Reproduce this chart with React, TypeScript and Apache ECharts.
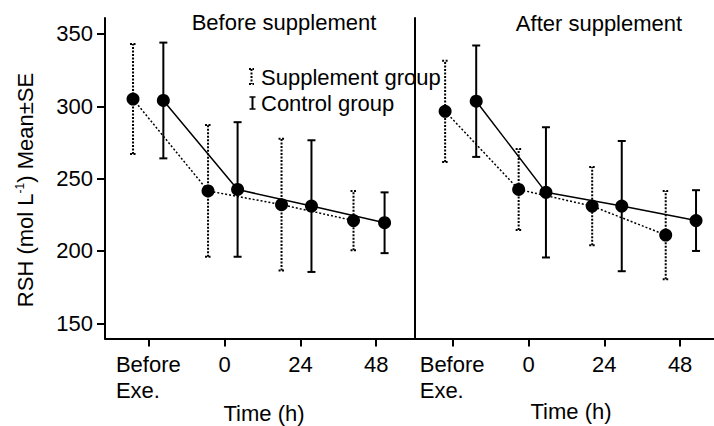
import React, { useEffect, useRef } from "react";
import * as echarts from "echarts";

// ---- data ----
const categories = ["Before\nExe.", "0", "24", "48"];
const yTicks = [150, 200, 250, 300, 350];
const xTicks = [0, 1, 2, 3];

// Before supplement panel
const beforeSuppX = [-0.21, 0.78, 1.75, 2.7];
const beforeSuppMean = [305, 241.5, 232, 221];
const beforeSuppSE = [38, 45.5, 45.5, 20.5];
const beforeCtrlX = [0.19, 1.17, 2.145, 3.11];
const beforeCtrlMean = [304, 242.5, 231, 219.5];
const beforeCtrlSE = [40, 46.5, 45.5, 21];

// After supplement panel
const afterSuppX = [-0.1, 0.87, 1.84, 2.81];
const afterSuppMean = [296.5, 242.5, 231, 211];
const afterSuppSE = [35, 28, 27, 30.5];
const afterCtrlX = [0.31, 1.23, 2.23, 3.21];
const afterCtrlMean = [303.5, 240.5, 231, 221];
const afterCtrlSE = [38.5, 45, 45, 21];

const FONT = '"Liberation Sans", Arial, sans-serif';
const FS = 22;

function errorBars(xs: number[], mean: number[], se: number[], gi: number, dotted: boolean) {
  return {
    type: "custom",
    xAxisIndex: gi,
    yAxisIndex: gi,
    clip: false,
    z: 2,
    encode: { x: 0, y: [1, 2] },
    data: xs.map((x, i) => [x, mean[i] - se[i], mean[i] + se[i]]),
    renderItem: (params: any, api: any) => {
      const x = api.value(0);
      const lo = api.coord([x, api.value(1)]);
      const hi = api.coord([x, api.value(2)]);
      const half = dotted ? 3 : 4;
      const style = { stroke: "#000", lineWidth: 2, lineDash: dotted ? [2, 1.5] : null, fill: null };
      return {
        type: "group",
        children: [
          { type: "line", shape: { x1: lo[0], y1: lo[1], x2: hi[0], y2: hi[1] }, style },
          { type: "line", shape: { x1: lo[0] - half, y1: lo[1], x2: lo[0] + half, y2: lo[1] }, style },
          { type: "line", shape: { x1: hi[0] - half, y1: hi[1], x2: hi[0] + half, y2: hi[1] }, style },
        ],
      };
    },
  };
}

function meanLine(xs: number[], mean: number[], gi: number, dotted: boolean) {
  return {
    type: "line",
    xAxisIndex: gi,
    yAxisIndex: gi,
    z: 3,
    symbol: "circle",
    symbolSize: 13,
    itemStyle: { color: "#000" },
    lineStyle: { color: "#000", width: 1.5, type: dotted ? [2, 2] : "solid" },
    data: xs.map((x, i) => [x, mean[i]]),
  };
}

function xAxisDef(gi: number, min: number, max: number) {
  return {
    type: "value",
    gridIndex: gi,
    min,
    max,
    splitLine: { show: false },
    axisLine: { show: true, onZero: false, lineStyle: { color: "#000", width: 2 } },
    axisTick: { show: true, inside: false, length: 8, lineStyle: { color: "#000", width: 2 }, customValues: xTicks },
    axisLabel: {
      show: true,
      customValues: xTicks,
      margin: 13,
      color: "#000",
      fontFamily: FONT,
      fontSize: FS,
      lineHeight: 26,
      formatter: (v: number) => {
        const c = categories[Math.round(v)] ?? "";
        if (c.indexOf("\n") >= 0) {
          return c
            .split("\n")
            .map((s) => "{l|" + s + "}")
            .join("\n");
        }
        return c;
      },
      rich: {
        l: { width: 66, align: "left", fontSize: FS, lineHeight: 26, fontFamily: FONT, color: "#000" },
      },
    },
  };
}

function label(text: string, x: number, y: number, align: string = "center") {
  return {
    type: "text",
    x,
    y,
    style: { text, fontSize: FS, fontFamily: FONT, fill: "#000", align, verticalAlign: "middle" },
  };
}

export default function App() {
  const ref = useRef<HTMLDivElement>(null);
  useEffect(() => {
    if (!ref.current) return;
    const chart = echarts.init(ref.current, null, { renderer: "svg" });
    const yMin = 139.5;
    const yMax = 361;
    chart.setOption({
      animation: false,
      backgroundColor: "#fff",
      textStyle: { fontFamily: FONT },
      grid: [
        { left: 105, top: 18, width: 309.5, height: 320.5 },
        { left: 414.5, top: 18, width: 299.5, height: 320.5 },
      ],
      xAxis: [xAxisDef(0, -0.58, 3.505), xAxisDef(1, -0.504, 3.447)],
      yAxis: [
        {
          type: "value",
          gridIndex: 0,
          min: yMin,
          max: yMax,
          splitLine: { show: false },
          axisLine: { show: true, onZero: false, lineStyle: { color: "#000", width: 2 } },
          axisTick: { show: true, inside: false, length: 8, lineStyle: { color: "#000", width: 2 }, customValues: yTicks },
          axisLabel: { customValues: yTicks, margin: 12, color: "#000", fontFamily: FONT, fontSize: FS },
        },
        {
          type: "value",
          gridIndex: 1,
          min: yMin,
          max: yMax,
          splitLine: { show: false },
          axisLine: { show: true, onZero: false, lineStyle: { color: "#000", width: 2 } },
          axisTick: { show: false },
          axisLabel: { show: false },
        },
      ],
      series: [
        errorBars(beforeSuppX, beforeSuppMean, beforeSuppSE, 0, true),
        errorBars(beforeCtrlX, beforeCtrlMean, beforeCtrlSE, 0, false),
        meanLine(beforeSuppX, beforeSuppMean, 0, true),
        meanLine(beforeCtrlX, beforeCtrlMean, 0, false),
        errorBars(afterSuppX, afterSuppMean, afterSuppSE, 1, true),
        errorBars(afterCtrlX, afterCtrlMean, afterCtrlSE, 1, false),
        meanLine(afterSuppX, afterSuppMean, 1, true),
        meanLine(afterCtrlX, afterCtrlMean, 1, false),
      ],
      graphic: [
        {
          type: "text",
          x: 25,
          y: 190,
          rotation: Math.PI / 2,
          style: {
            text: "RSH (mol L{sup|-1}) Mean±SE",
            fontSize: 22,
            fontFamily: FONT,
            fill: "#000",
            align: "center",
            verticalAlign: "middle",
            rich: {
              sup: { fontSize: 12, verticalAlign: "top", lineHeight: 22, fontFamily: FONT, fill: "#000" },
            },
          },
        },
        label("Before supplement", 284, 22),
        label("After supplement", 599, 23),
        label("Time (h)", 264, 413),
        label("Time (h)", 571, 411),
        // legend icons
        { type: "line", shape: { x1: 251.5, y1: 69, x2: 251.5, y2: 84 }, style: { stroke: "#000", lineWidth: 2, lineDash: [2, 1.5] } },
        { type: "line", shape: { x1: 249, y1: 69, x2: 254, y2: 69 }, style: { stroke: "#000", lineWidth: 2, lineDash: [2, 1.5] } },
        { type: "line", shape: { x1: 249, y1: 84, x2: 254, y2: 84 }, style: { stroke: "#000", lineWidth: 2, lineDash: [2, 1.5] } },
        { type: "line", shape: { x1: 252.5, y1: 97, x2: 252.5, y2: 109 }, style: { stroke: "#000", lineWidth: 2 } },
        { type: "line", shape: { x1: 249.5, y1: 97, x2: 255.5, y2: 97 }, style: { stroke: "#000", lineWidth: 1.5 } },
        { type: "line", shape: { x1: 249.5, y1: 109, x2: 255.5, y2: 109 }, style: { stroke: "#000", lineWidth: 1.5 } },
        label("Supplement group", 261, 77, "left"),
        label("Control group", 261, 103, "left"),
      ],
    });
    return () => chart.dispose();
  }, []);
  return <div ref={ref} style={{ position: "absolute", left: 0, top: 0, width: 714, height: 426 }} />;
}
